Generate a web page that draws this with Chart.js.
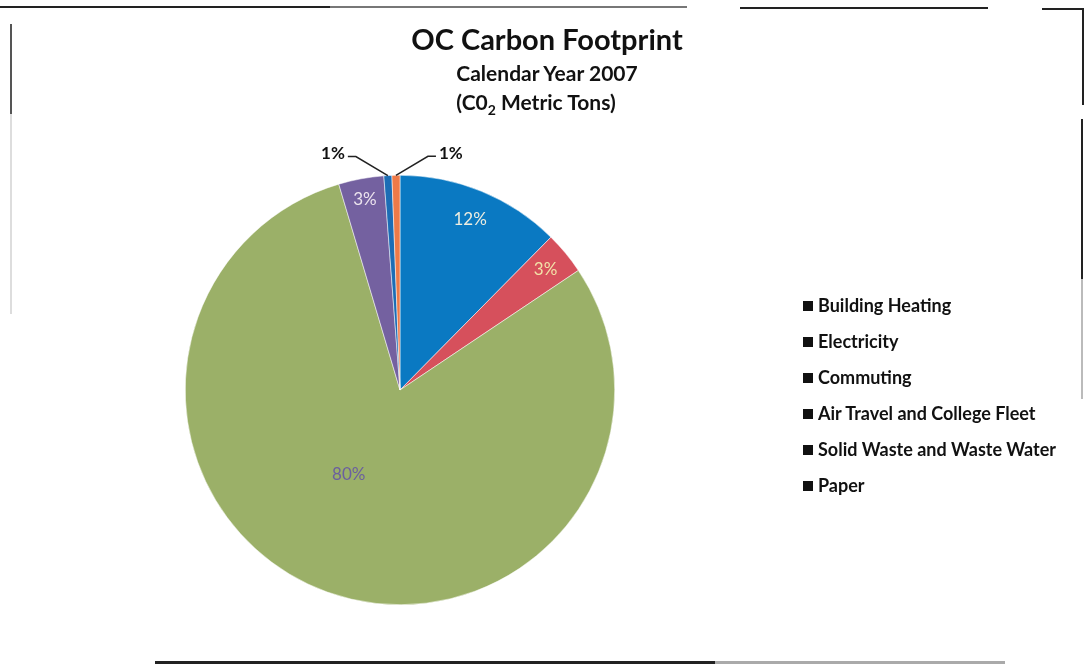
<!DOCTYPE html>
<html>
<head>
<meta charset="utf-8">
<script src="https://cdn.jsdelivr.net/npm/chart.js@4.4.1/dist/chart.umd.min.js"></script>
<style>
  html, body { margin: 0; padding: 0; background: #fff; }
  #wrap { position: relative; width: 1088px; height: 665px; overflow: hidden; font-family: Lato, "Open Sans", sans-serif; }
  #chartBox { position: absolute; left: 0; top: 0; width: 1088px; height: 665px; }
  .title { position: absolute; left: 297px; width: 500px; text-align: center; font-weight: bold; color: #111; white-space: nowrap; }
  #t1 { top: 21px; font-size: 29px; }
  #t2 { top: 60px; font-size: 21px; }
  #t3 { top: 89px; font-size: 21px; left: 286px; }
  #t3 sub { font-size: 14px; vertical-align: -5px; line-height: 0; }
  #legend { position: absolute; left: 803px; top: 294px; margin: 0; padding: 0; list-style: none; }
  #legend li { height: 36px; font-size: 18px; font-weight: bold; color: #111; white-space: nowrap; }
  #legend span.box { display: inline-block; width: 10px; height: 10px; background: #111; margin-right: 5px; vertical-align: 1px; }
  .ln { position: absolute; background: #222; }
</style>
</head>
<body>
<div id="wrap">
  <div id="chartBox"><canvas id="pieChart"></canvas></div>
  <div class="title" id="t1">OC Carbon Footprint</div>
  <div class="title" id="t2">Calendar Year 2007</div>
  <div class="title" id="t3">(C0<sub>2</sub> Metric Tons)</div>
  <ul id="legend"></ul>
  <!-- scan frame edges -->
  <div class="ln" style="left:0;top:6px;width:330px;height:2px;"></div>
  <div class="ln" style="left:330px;top:6px;width:357px;height:2px;background:#777;"></div>
  <div class="ln" style="left:740px;top:7px;width:248px;height:2px;"></div>
  <div class="ln" style="left:1042px;top:8px;width:42px;height:2px;"></div>
  <div class="ln" style="left:1082px;top:8px;width:2px;height:97px;"></div>
  <div class="ln" style="left:1081px;top:119px;width:2px;height:160px;"></div>
  <div class="ln" style="left:1081px;top:279px;width:2px;height:120px;background:#bbb;"></div>
  <div class="ln" style="left:10px;top:24px;width:2px;height:90px;background:#555;"></div>
  <div class="ln" style="left:10px;top:114px;width:2px;height:200px;background:#ddd;"></div>
  <div class="ln" style="left:155px;top:661px;width:560px;height:3px;"></div>
  <div class="ln" style="left:715px;top:661px;width:290px;height:3px;background:#aaa;"></div>
</div>
<script>
const categories = ['Building Heating', 'Electricity', 'Commuting', 'Air Travel and College Fleet', 'Solid Waste and Waste Water', 'Paper'];
const shares = [12.4, 3.2, 79.8, 3.4, 0.6, 0.6];
const sliceColors = ['#0A79C2', '#D6505C', '#9BB068', '#7461A0', '#1C6DB5', '#EE7A48'];
const labelColors = ['#EDEDE0', '#F2E2A8', '#6B5F9E', '#ECE4EE', '#111', '#111'];
const labelRadius = [0.86, 0.88, 0.46, 0.9];
const labelTurn = [0, 0, 0.2, 0]; // small angle nudge (radians)

// legend
let legendHtml = '';
categories.forEach((c) => {
  legendHtml += '<li><span class="box"></span>' + c + '</li>';
});
document.getElementById('legend').innerHTML = legendHtml;

const pctLabels = {
  id: 'pctLabels',
  afterDatasetsDraw(chart) {
    const ctx = chart.ctx;
    const total = shares.reduce((a, b) => a + b, 0);
    let side = -1;
    chart.getDatasetMeta(0).data.forEach((arc, i) => {
      const p = arc.getProps(['x', 'y', 'startAngle', 'endAngle', 'outerRadius']);
      let mid = (p.startAngle + p.endAngle) / 2;
      const txt = Math.round(shares[i] / total * 100) + '%';
      ctx.save();
      if (shares[i] >= 2) {
        mid += labelTurn[i];
        const r = p.outerRadius * labelRadius[i];
        ctx.font = '17px Lato, sans-serif';
        ctx.fillStyle = labelColors[i];
        ctx.textAlign = 'center';
        ctx.textBaseline = 'middle';
        ctx.fillText(txt, p.x + Math.cos(mid) * r, p.y + Math.sin(mid) * r);
      } else {
        // small slices: leader line out to the side
        const x0 = p.x + Math.cos(mid) * p.outerRadius;
        const y0 = p.y + Math.sin(mid) * p.outerRadius;
        const x1 = x0 + side * 32;
        const y1 = y0 - 19;
        const x2 = x1 + side * 8;
        ctx.strokeStyle = '#222';
        ctx.lineWidth = 1.5;
        ctx.beginPath();
        ctx.moveTo(x0, y0);
        ctx.lineTo(x1, y1);
        ctx.lineTo(x2, y1);
        ctx.stroke();
        ctx.font = 'bold 17px Lato, sans-serif';
        ctx.fillStyle = labelColors[i];
        ctx.textAlign = side < 0 ? 'right' : 'left';
        ctx.textBaseline = 'middle';
        ctx.fillText(txt, x2 + side * 3, y1 - 3);
        side = -side;
      }
      ctx.restore();
    });
  }
};

new Chart('pieChart', {
  type: 'pie',
  data: {
    labels: categories,
    datasets: [{
      data: shares,
      backgroundColor: sliceColors,
      borderColor: '#fff',
      borderWidth: 0.5
    }]
  },
  options: {
    responsive: true,
    maintainAspectRatio: false,
    animation: false,
    layout: { padding: { left: 185, right: 473, top: 175, bottom: 60 } },
    plugins: {
      legend: { display: false },
      title: { display: false },
      tooltip: { enabled: false }
    }
  },
  plugins: [pctLabels]
});
</script>
</body>
</html>
